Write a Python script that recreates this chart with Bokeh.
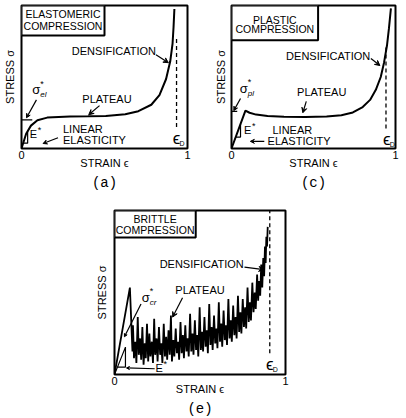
from bokeh.plotting import figure
from bokeh.layouts import column, row
from bokeh.models import Label, Arrow, VeeHead, BoxAnnotation, FixedTicker, Title, Spacer
from bokeh.embed import file_html
from bokeh.resources import INLINE

# ---------------- data (stress and strain normalised) ----------------
strain_ticks = [0, 1]
strain_tick_labels = ["0", "1"]

elastomeric_strain = [0.0, 0.028, 0.057, 0.096, 0.155, 0.292, 0.40, 0.508, 0.625, 0.704,
                      0.782, 0.831, 0.871, 0.896, 0.910, 0.916, 0.921]
elastomeric_stress = [0.0, 0.103, 0.160, 0.198, 0.216, 0.223, 0.225, 0.228, 0.239, 0.261,
                      0.306, 0.374, 0.486, 0.610, 0.734, 0.85, 0.975]

plastic_strain = [0.0, 0.085, 0.11, 0.15, 0.22, 0.32, 0.45, 0.58, 0.67, 0.74,
                  0.80, 0.845, 0.88, 0.91, 0.93, 0.948, 0.96, 0.972]
plastic_stress = [0.0, 0.265, 0.25, 0.237, 0.228, 0.222, 0.22, 0.223, 0.232, 0.252,
                  0.29, 0.34, 0.41, 0.50, 0.60, 0.72, 0.84, 0.98]

brittle_strain = [0.0, 0.09, 0.105,
    0.108, 0.114, 0.122, 0.128, 0.136, 0.142, 0.150, 0.156, 0.163, 0.170,
    0.177, 0.183, 0.190, 0.197, 0.204, 0.210, 0.218, 0.225, 0.232, 0.238,
    0.246, 0.252, 0.260, 0.267, 0.274, 0.280, 0.288, 0.295, 0.302, 0.308,
    0.316, 0.323, 0.330, 0.336, 0.344, 0.350, 0.358, 0.365, 0.372, 0.378,
    0.386, 0.393, 0.400, 0.406, 0.414, 0.421, 0.428, 0.434, 0.442, 0.449,
    0.456, 0.462, 0.470, 0.477, 0.484, 0.490, 0.498, 0.505, 0.512, 0.518,
    0.526, 0.533, 0.540, 0.546, 0.554, 0.561, 0.568, 0.574, 0.582, 0.589,
    0.596, 0.602, 0.610, 0.617, 0.624, 0.630, 0.638, 0.645, 0.652, 0.658,
    0.666, 0.673, 0.680, 0.686, 0.694, 0.701, 0.708, 0.714, 0.722, 0.729,
    0.736, 0.742, 0.750, 0.757, 0.764, 0.770, 0.778, 0.785, 0.792, 0.798,
    0.806, 0.813, 0.820, 0.826, 0.834, 0.840, 0.846, 0.852, 0.858, 0.864,
    0.870, 0.875, 0.880, 0.884, 0.888, 0.892, 0.896]
brittle_stress = [0.0, 0.53, 0.14,
    0.30, 0.10, 0.20, 0.07, 0.35, 0.12, 0.22, 0.09, 0.29, 0.06,
    0.19, 0.10, 0.31, 0.08, 0.25, 0.11, 0.20, 0.07, 0.34, 0.12,
    0.22, 0.08, 0.29, 0.12, 0.19, 0.07, 0.31, 0.11, 0.23, 0.09,
    0.27, 0.12, 0.36, 0.08, 0.21, 0.11, 0.28, 0.13, 0.20, 0.09,
    0.32, 0.13, 0.24, 0.10, 0.30, 0.14, 0.22, 0.11, 0.37, 0.14,
    0.25, 0.12, 0.33, 0.15, 0.24, 0.11, 0.41, 0.15, 0.26, 0.14,
    0.35, 0.17, 0.27, 0.13, 0.43, 0.18, 0.29, 0.15, 0.36, 0.19,
    0.28, 0.16, 0.44, 0.20, 0.31, 0.17, 0.39, 0.21, 0.30, 0.18,
    0.46, 0.22, 0.33, 0.20, 0.42, 0.24, 0.35, 0.22, 0.48, 0.26,
    0.38, 0.25, 0.46, 0.29, 0.41, 0.28, 0.53, 0.32, 0.44, 0.33,
    0.56, 0.38, 0.50, 0.40, 0.61, 0.45, 0.57, 0.48, 0.67, 0.53,
    0.71, 0.60, 0.78, 0.68, 0.84, 0.78, 0.90]

densification_strain = [0.934, 0.942, 0.908]      # (a), (c), (e)
elastic_collapse_stress = 0.20
plastic_collapse_stress = 0.26

panel_titles = [["ELASTOMERIC", "COMPRESSION"], ["PLASTIC", "COMPRESSION"], ["BRITTLE", "COMPRESSION"]]
panel_captions = ["(a)", "(c)", "(e)"]

SANS = "Liberation Sans"
MONO = "Liberation Mono"


def make_panel(width, height, left, right, top, bottom, ystand, caption):
    p = figure(width=width, height=height, x_range=(0, 1), y_range=(0, 1),
               output_backend="svg", toolbar_location=None, title=None,
               min_border_left=left, min_border_right=right,
               min_border_top=top, min_border_bottom=bottom)
    p.grid.visible = False
    p.outline_line_color = "black"
    p.outline_line_width = 2
    p.outline_line_alpha = 1
    xa = p.xaxis[0]
    xa.ticker = FixedTicker(ticks=strain_ticks)
    xa.major_label_overrides = {t: s for t, s in zip(strain_ticks, strain_tick_labels)}
    xa.major_tick_line_color = None
    xa.minor_tick_line_color = None
    xa.major_tick_out = 0
    xa.major_tick_in = 0
    xa.axis_line_color = None
    xa.major_label_standoff = 2
    xa.major_label_text_font = SANS
    xa.major_label_text_font_size = "11px"
    xa.major_label_text_color = "black"
    xa.axis_label = "STRAIN ϵ"
    xa.axis_label_text_font = SANS
    xa.axis_label_text_font_size = "11px"
    xa.axis_label_text_font_style = "normal"
    xa.axis_label_text_color = "black"
    xa.axis_label_standoff = -5
    ya = p.yaxis[0]
    ya.ticker = FixedTicker(ticks=[])
    ya.major_tick_line_color = None
    ya.minor_tick_line_color = None
    ya.major_tick_out = 0
    ya.major_tick_in = 0
    ya.axis_line_color = None
    ya.major_label_standoff = 0
    ya.axis_label = "STRESS σ"
    ya.axis_label_text_font = SANS
    ya.axis_label_text_font_size = "11px"
    ya.axis_label_text_font_style = "normal"
    ya.axis_label_text_color = "black"
    ya.axis_label_standoff = ystand
    p.add_layout(Title(text=caption, align="center", text_font=MONO, text_font_size="14px",
                       text_font_style="normal", text_color="black", standoff=3), "below")
    return p


def label(p, x, y, text, size=11, align="left", font=SANS, style="normal", dx=0, dy=0):
    p.add_layout(Label(x=x, y=y, text=text, x_offset=dx, y_offset=dy, text_font=font,
                       text_font_size=f"{size}px", text_align=align, text_baseline="middle",
                       text_font_style=style, text_color="black"))


def arrow(p, x0, y0, x1, y1, size=5):
    p.add_layout(Arrow(end=VeeHead(size=size, line_color="black", fill_color="black", line_width=1),
                       x_start=x0, y_start=y0, x_end=x1, y_end=y1,
                       line_width=1.2, line_color="black"))


def title_box(p, right, bottom, lines, y1, y2):
    p.add_layout(BoxAnnotation(left=0, right=right, bottom=bottom, top=1.0, fill_color="white",
                               fill_alpha=1, line_color="black", line_width=2, line_alpha=1))
    label(p, right / 2, y1, lines[0], size=10.5, align="center")
    label(p, right / 2, y2, lines[1], size=10.5, align="center")


def eps_d(p, x, y):
    label(p, x, y, "ϵ", size=17, align="center")
    label(p, x, y, "D", size=7, align="left", dx=3, dy=-5)


# ---------------- (a) elastomeric ----------------
pa = make_panel(203, 200, 17, 16, 4, 48, 6, panel_captions[0])
pa.line(elastomeric_strain, elastomeric_stress, line_color="black", line_width=2)
d = densification_strain[0]
pa.line([d, d], [0.15, 0.78], line_color="black", line_width=1.3, line_dash="4 3")
pa.line([0, 0.065], [elastic_collapse_stress, elastic_collapse_stress], line_color="black", line_width=1.2)
pa.line([0.01, 0.037, 0.037], [0.037, 0.037, 0.128], line_color="black", line_width=1.2)
title_box(pa, 0.5, 0.79, panel_titles[0], 0.94, 0.855)
label(pa, 0.81, 0.68, "DENSIFICATION", align="right")
arrow(pa, 0.81, 0.655, 0.885, 0.60)
label(pa, 0.515, 0.345, "PLATEAU", align="center")
arrow(pa, 0.47, 0.30, 0.405, 0.236)
label(pa, 0.25, 0.135, "LINEAR")
label(pa, 0.25, 0.06, "ELASTICITY")
arrow(pa, 0.22, 0.075, 0.13, 0.035, size=4)
label(pa, 0.05, 0.10, "E")
label(pa, 0.05, 0.10, "*", size=9, dx=8, dy=4)
label(pa, 0.065, 0.41, "σ", size=13)
label(pa, 0.065, 0.41, "*", size=9, dx=8, dy=6)
label(pa, 0.065, 0.41, "el", size=8, style="italic", dx=8, dy=-5)
arrow(pa, 0.09, 0.34, 0.03, 0.215, size=4)
eps_d(pa, d, 0.07)

# ---------------- (c) plastic ----------------
pc = make_panel(203, 200, 28, 11, 5, 52, 5, panel_captions[1])
pc.line(plastic_strain, plastic_stress, line_color="black", line_width=2)
d = densification_strain[1]
pc.line([d, d], [0.14, 0.72], line_color="black", line_width=1.3, line_dash="4 3")
pc.line([0, 0.035], [plastic_collapse_stress, plastic_collapse_stress], line_color="black", line_width=1.2)
pc.line([0.026, 0.055, 0.055], [0.08, 0.08, 0.17], line_color="black", line_width=1.2)
title_box(pc, 0.528, 0.757, panel_titles[1], 0.90, 0.835)
label(pc, 0.846, 0.648, "DENSIFICATION", align="right")
arrow(pc, 0.85, 0.63, 0.905, 0.58)
label(pc, 0.55, 0.398, "PLATEAU", align="center")
arrow(pc, 0.456, 0.33, 0.435, 0.25)
label(pc, 0.25, 0.13, "LINEAR")
label(pc, 0.22, 0.05, "ELASTICITY")
arrow(pc, 0.2, 0.05, 0.115, 0.05, size=4)
label(pc, 0.076, 0.13, "E")
label(pc, 0.076, 0.13, "*", size=9, dx=8, dy=4)
label(pc, 0.05, 0.42, "σ", size=13)
label(pc, 0.05, 0.42, "*", size=9, dx=8, dy=6)
label(pc, 0.05, 0.42, "pl", size=8, style="italic", dx=8, dy=-5)
arrow(pc, 0.055, 0.35, 0.014, 0.265, size=4)
eps_d(pc, d + 0.005, 0.06)

# ---------------- (e) brittle ----------------
pe = make_panel(230, 218, 24, 35, 10, 40, 7, panel_captions[2])
pe.line(brittle_strain, brittle_stress, line_color="black", line_width=1.8)
d = densification_strain[2]
pe.line([d, d], [0.13, 1.0], line_color="black", line_width=1.3, line_dash="4 3")
pe.line([0.0, 0.064, 0.064, 0.018], [0.0, 0.167, 0.045, 0.045], line_color="black", line_width=1.2)
title_box(pe, 0.475, 0.835, panel_titles[2], 0.95, 0.88)
label(pe, 0.756, 0.675, "DENSIFICATION", align="right")
arrow(pe, 0.76, 0.655, 0.873, 0.64)
label(pe, 0.5, 0.515, "PLATEAU", align="center")
arrow(pe, 0.398, 0.468, 0.34, 0.35)
label(pe, 0.16, 0.47, "σ", size=13)
label(pe, 0.16, 0.47, "*", size=9, dx=8, dy=6)
label(pe, 0.16, 0.47, "cr", size=8, style="italic", dx=8, dy=-5)
arrow(pe, 0.155, 0.43, 0.058, 0.23, size=3)
label(pe, 0.24, 0.04, "E")
label(pe, 0.24, 0.04, "*", size=9, dx=8, dy=4)
arrow(pe, 0.235, 0.035, 0.07, 0.04, size=3)
eps_d(pe, d, 0.06)

layout = column(row(pa, pc), row(Spacer(width=90, height=218), pe))

with open("out.html", "w") as f:
    f.write(file_html(layout, INLINE))
